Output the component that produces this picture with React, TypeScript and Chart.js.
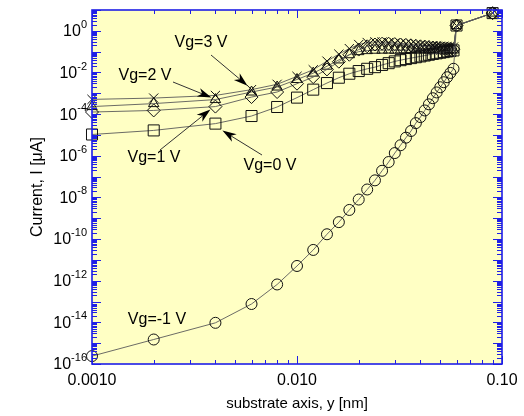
import React, { useEffect, useRef } from "react";
import { Chart, registerables } from "chart.js";

Chart.register(...registerables);

// ---------------- data ----------------
const substrateY = [
  0.001, 0.002, 0.004, 0.006, 0.008, 0.010, 0.012, 0.014, 0.016, 0.018,
  0.020, 0.022, 0.024, 0.026, 0.028, 0.030, 0.032, 0.034, 0.036, 0.038,
  0.040, 0.042, 0.044, 0.046, 0.048, 0.050, 0.052, 0.054, 0.056, 0.058,
  0.060, 0.090,
];

const currentVgM1 = [
  2.4e-16, 1.5e-15, 9.5e-15, 7.6e-14, 6.6e-13, 5.1e-12, 3.0e-11, 1.7e-10, 6.5e-10, 2.5e-9,
  7.9e-9, 2.4e-8, 6.6e-8, 1.9e-7, 5.0e-7, 1.35e-6, 3.2e-6, 7.4e-6, 1.55e-5, 3.7e-5,
  7.2e-5, 1.5e-4, 2.95e-4, 5.8e-4, 1.1e-3, 1.95e-3, 3.4e-3, 5.9e-3, 9.5e-3, 1.5e-2,
  1.8, 7.1,
];

const currentVg0 = [
  1.05e-5, 1.65e-5, 3.5e-5, 8.1e-5, 2.2e-4, 6.2e-4, 1.5e-3, 3.1e-3, 5.6e-3, 8.7e-3,
  1.17e-2, 1.5e-2, 1.8e-2, 2.3e-2, 2.8e-2, 3.4e-2, 3.9e-2, 4.4e-2, 4.9e-2, 5.4e-2,
  5.9e-2, 6.5e-2, 7.1e-2, 7.8e-2, 8.3e-2, 8.9e-2, 9.5e-2, 0.102, 0.107, 0.115,
  1.8, 7.1,
];

const currentVg1 = [
  1.26e-4, 1.5e-4, 2.3e-4, 6.6e-4, 1.15e-3, 2.9e-3, 6.0e-3, 1.4e-2, 3.3e-2, 7.1e-2,
  0.126, 0.18, 0.22, 0.24, 0.24, 0.23, 0.22, 0.21, 0.2, 0.19,
  0.18, 0.175, 0.166, 0.158, 0.151, 0.148, 0.141, 0.138, 0.135, 0.132,
  1.8, 7.1,
];

const currentVg2 = [
  2.3e-4, 3.2e-4, 5.0e-4, 1.15e-3, 2.0e-3, 4.6e-3, 9.3e-3, 2.0e-2, 4.0e-2, 7.1e-2,
  0.1, 0.112, 0.117, 0.118, 0.119, 0.117, 0.12, 0.121, 0.119, 0.12,
  0.122, 0.121, 0.12, 0.121, 0.122, 0.12, 0.121, 0.12, 0.119, 0.12,
  1.8, 7.1,
];

const currentVg3 = [
  5.1e-4, 5.9e-4, 7.9e-4, 1.5e-3, 2.7e-3, 6.5e-3, 1.35e-2, 3.5e-2, 7.6e-2, 0.14,
  0.22, 0.275, 0.295, 0.29, 0.275, 0.26, 0.25, 0.24, 0.23, 0.22,
  0.21, 0.2, 0.195, 0.19, 0.186, 0.182, 0.178, 0.174, 0.17, 0.166,
  1.8, 7.1,
];

const seriesNames = ["Vg=-1 V", "Vg=0 V", "Vg=1 V", "Vg=2 V", "Vg=3 V"];
const yTickExponents = [0, -2, -4, -6, -8, -10, -12, -14, -16];
const xTickValues = [0.001, 0.01, 0.1];
const xTickLabels = ["0.0010", "0.010", "0.10"];
const xTitle = "substrate axis, y [nm]";
const yTitle = "Current, I [\u03bcA]";

// ---------------- styles / layout ----------------
const FONT = "'Liberation Sans', Arial, Helvetica, sans-serif";
const PLOT_BG = "#ffffc4";
const AXIS_BLUE = "#1f1fe6";
const LINE_GRAY = "#5a5a5a";
const MARK = "#111111";

// annotation layout: label centre (px), arrow start (px), target series/point, tip offset (px)
const annotations = [
  { series: 4, text: "Vg=3 V", lx: 201, ly: 43, ax: 211, ay: 55, point: 3, dx: -4, dy: -4 },
  { series: 3, text: "Vg=2 V", lx: 145, ly: 76, ax: 173, ay: 82, point: 2, dx: -4, dy: -2 },
  { series: 2, text: "Vg=1 V", lx: 154, ly: 158, ax: 160, ay: 150, point: 2, dx: -5, dy: 3 },
  { series: 1, text: "Vg=0 V", lx: 270, ly: 166, ax: 262, ay: 155, point: 2, dx: 7, dy: 7 },
  { series: 0, text: "Vg=-1 V", lx: 157, ly: 320, ax: null, ay: null, point: 0, dx: 0, dy: 0 },
];

function drawArrow(ctx: CanvasRenderingContext2D, sx: number, sy: number, tx: number, ty: number) {
  const a = Math.atan2(ty - sy, tx - sx);
  const ux = Math.cos(a), uy = Math.sin(a);
  const px = -uy, py = ux;
  const L = 14, W = 4.5, N = 4;
  ctx.beginPath();
  ctx.moveTo(sx, sy);
  ctx.lineTo(tx - ux * (L - N), ty - uy * (L - N));
  ctx.strokeStyle = "#333";
  ctx.lineWidth = 1;
  ctx.stroke();
  ctx.beginPath();
  ctx.moveTo(tx, ty);
  ctx.lineTo(tx - ux * L + px * W, ty - uy * L + py * W);
  ctx.lineTo(tx - ux * (L - N), ty - uy * (L - N));
  ctx.lineTo(tx - ux * L - px * W, ty - uy * L - py * W);
  ctx.closePath();
  ctx.fillStyle = "#000";
  ctx.fill();
}

const framePlugin = {
  id: "frame",
  beforeDraw(chart: any) {
    const { ctx, chartArea: a } = chart;
    ctx.save();
    ctx.fillStyle = "#ffffff";
    ctx.fillRect(0, 0, chart.width, chart.height);
    ctx.fillStyle = PLOT_BG;
    ctx.fillRect(a.left, a.top, a.right - a.left, a.bottom - a.top);
    ctx.restore();
  },
  afterDraw(chart: any) {
    const { ctx, chartArea: a } = chart;
    const xs = chart.scales.x;
    const ys = chart.scales.y;
    ctx.save();

    // ticks
    ctx.strokeStyle = AXIS_BLUE;
    ctx.lineWidth = 1;
    ctx.beginPath();
    for (let d = -16; d <= 1; d++) {
      for (let m = 1; m <= 9; m++) {
        const v = m * Math.pow(10, d);
        if (v < ys.min * 0.999 || v > ys.max * 1.001) continue;
        const y = Math.round(ys.getPixelForValue(v)) + 0.5;
        const len = m === 1 ? 9 : 5;
        ctx.moveTo(a.left, y);
        ctx.lineTo(a.left + len, y);
        ctx.moveTo(a.right, y);
        ctx.lineTo(a.right - len, y);
      }
    }
    for (let d = -3; d <= -1; d++) {
      for (let m = 1; m <= 9; m++) {
        const v = m * Math.pow(10, d);
        if (v < xs.min * 0.999 || v > xs.max * 1.001) continue;
        const x = Math.round(xs.getPixelForValue(v)) + 0.5;
        const len = m === 1 ? 8 : 4;
        ctx.moveTo(x, a.bottom);
        ctx.lineTo(x, a.bottom - len);
        ctx.moveTo(x, a.top);
        ctx.lineTo(x, a.top + len);
      }
    }
    ctx.stroke();

    // frame
    ctx.lineWidth = 1.6;
    ctx.strokeRect(a.left, a.top, a.right - a.left, a.bottom - a.top);

    // y tick labels with superscript exponent
    ctx.fillStyle = "#000";
    ctx.textBaseline = "middle";
    for (const e of yTickExponents) {
      const y = ys.getPixelForValue(Math.pow(10, e));
      const sup = String(e);
      ctx.font = `11px ${FONT}`;
      const supW = ctx.measureText(sup).width;
      const baseRight = a.left - 5 - supW;
      ctx.textAlign = "left";
      ctx.fillText(sup, baseRight, y - 6);
      ctx.font = `16px ${FONT}`;
      ctx.textAlign = "right";
      ctx.fillText("10", baseRight, y + 1);
    }

    // x tick labels
    ctx.font = `16px ${FONT}`;
    ctx.textAlign = "center";
    xTickValues.forEach((v, i) => {
      ctx.fillText(xTickLabels[i], xs.getPixelForValue(v), a.bottom + 17);
    });

    // titles
    ctx.font = `15px ${FONT}`;
    ctx.fillText(xTitle, (a.left + a.right) / 2, a.bottom + 40);
    ctx.save();
    ctx.font = `16px ${FONT}`;
    ctx.translate(38, (a.top + a.bottom) / 2);
    ctx.rotate(-Math.PI / 2);
    ctx.fillText(yTitle, 0, 0);
    ctx.restore();

    // annotations
    ctx.font = `16px ${FONT}`;
    for (const an of annotations) {
      ctx.fillStyle = "#000";
      ctx.textAlign = "center";
      ctx.fillText(an.text, an.lx, an.ly);
      if (an.ax !== null) {
        const el = chart.getDatasetMeta(an.series).data[an.point];
        drawArrow(ctx, an.ax as number, an.ay as number, el.x + an.dx, el.y + an.dy);
      }
    }
    ctx.restore();
  },
};

const seriesValues = [currentVgM1, currentVg0, currentVg1, currentVg2, currentVg3];
const pointStyles = ["circle", "rect", "rectRot", "triangle", "crossRot"];
const pointRadii = [5.5, 7.8, 6.5, 6, 6.5];

export default function App() {
  const ref = useRef<HTMLCanvasElement | null>(null);
  useEffect(() => {
    document.body.style.margin = "0";
    if (!ref.current) return;
    const datasets = seriesValues.map((vals, i) => ({
      label: seriesNames[i],
      data: substrateY.map((x, j) => ({ x, y: vals[j] })),
      borderColor: LINE_GRAY,
      borderWidth: 0.9,
      pointStyle: pointStyles[i],
      pointRadius: pointRadii[i],
      pointBorderColor: MARK,
      pointBackgroundColor: "rgba(0,0,0,0)",
      pointBorderWidth: 1,
      tension: 0,
      clip: false as any,
      fill: false,
    }));
    const chart = new Chart(ref.current, {
      type: "line",
      data: { datasets },
      options: {
        animation: false,
        responsive: false,
        devicePixelRatio: 1,
        layout: { padding: { left: 92, top: 10, right: 22, bottom: 52 } },
        plugins: { legend: { display: false }, tooltip: { enabled: false } },
        scales: {
          x: { type: "logarithmic", min: 0.001, max: 0.1, display: false },
          y: { type: "logarithmic", min: 1e-16, max: 10, display: false },
        },
      },
      plugins: [framePlugin],
    });
    return () => chart.destroy();
  }, []);
  return (
    <div style={{ position: "absolute", left: 0, top: 0, width: 524, height: 416 }}>
      <canvas ref={ref} width={524} height={416} style={{ width: 524, height: 416 }} />
    </div>
  );
}
